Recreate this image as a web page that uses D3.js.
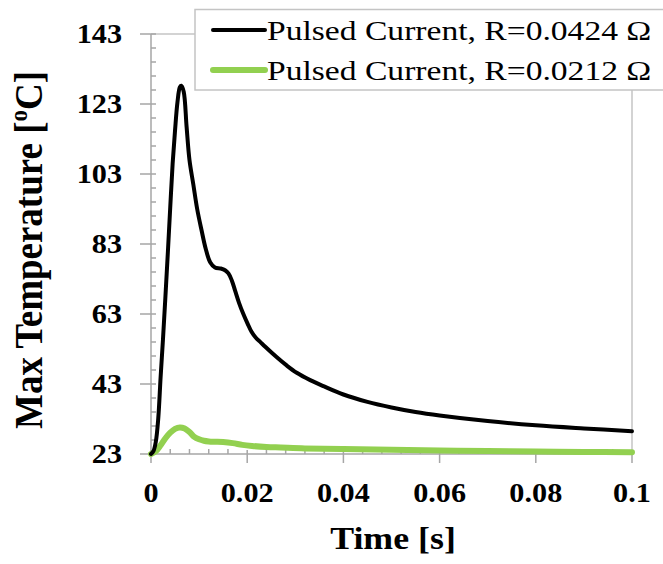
<!DOCTYPE html>
<html>
<head>
<meta charset="utf-8">
<script src="https://cdn.jsdelivr.net/npm/d3@7"></script>
<style>
  html, body { margin: 0; padding: 0; background: #fff; }
  svg { display: block; }
  text { font-family: "Liberation Serif", "Times New Roman", Times, serif; }
</style>
</head>
<body>
<svg id="chart" width="663" height="564"></svg>
<script>
// Time axis (s) and temperature axis (°C) ticks
const xTicks = [0, 0.02, 0.04, 0.06, 0.08, 0.1];
const xTickLabels = ["0", "0.02", "0.04", "0.06", "0.08", "0.1"];
const yTicks = [23, 43, 63, 83, 103, 123, 143];
const yTickLabels = ["23", "43", "63", "83", "103", "123", "143"];

// Series names
const seriesNames = ["Pulsed Current, R=0.0424 Ω", "Pulsed Current, R=0.0212 Ω"];
const seriesColors = ["#000000", "#92d050"];

// Max temperature vs time, R = 0.0424 Ω
const timeHigh = [0, 0.0005, 0.001, 0.0015, 0.002, 0.0025, 0.003, 0.0035, 0.004, 0.0045, 0.005, 0.0055, 0.006, 0.0063, 0.0068, 0.0074, 0.008, 0.0088, 0.0096, 0.0105, 0.0114, 0.0123, 0.0133, 0.0145, 0.0154, 0.0161, 0.0168, 0.0175, 0.0183, 0.0192, 0.0201, 0.0209, 0.0218, 0.0228, 0.0237, 0.0261, 0.0282, 0.0303, 0.0331, 0.036, 0.04, 0.045, 0.05, 0.055, 0.06, 0.07, 0.08, 0.09, 0.1];
const tempHigh = [23, 23.8, 26.5, 33, 45, 56, 68, 80.5, 93.5, 106, 115.5, 123.5, 127.8, 128.2, 126.5, 116.5, 107, 100, 93, 87, 81.5, 77.8, 76.3, 76, 75.5, 74.6, 72.6, 69.6, 66.2, 63.0, 60.2, 57.9, 56.2, 54.9, 53.7, 50.7, 48.3, 46.2, 44.1, 42.3, 40.0, 37.9, 36.3, 35.0, 34.0, 32.4, 31.2, 30.3, 29.5];

// Max temperature vs time, R = 0.0212 Ω
const timeLow = [0, 0.001, 0.002, 0.003, 0.004, 0.005, 0.006, 0.007, 0.008, 0.009, 0.010, 0.011, 0.012, 0.013, 0.015, 0.017, 0.019, 0.021, 0.024, 0.027, 0.032, 0.04, 0.05, 0.06, 0.07, 0.08, 0.09, 0.1];
const tempLow = [23, 23.8, 25.5, 27.5, 29.1, 30.2, 30.6, 30.3, 29.3, 27.9, 27.2, 26.8, 26.6, 26.5, 26.4, 26.1, 25.6, 25.3, 25.0, 24.85, 24.6, 24.4, 24.2, 24.0, 23.85, 23.7, 23.6, 23.5];

const svg = d3.select("#chart");
const SX = 1.12; // horizontal stretch of lettering

const x = d3.scaleLinear().domain([0, 0.1]).range([151, 632]);
const y = d3.scaleLinear().domain([23, 143]).range([454, 34]);

const axisColor = "#a6a6a6";
const borderColor = "#c4c4c4";

// Plot area border (top and right)
svg.append("line").attr("x1", x(0)).attr("x2", x(0.1)).attr("y1", y(143)).attr("y2", y(143))
  .attr("stroke", borderColor).attr("stroke-width", 1.5);
svg.append("line").attr("x1", x(0.1)).attr("x2", x(0.1)).attr("y1", y(143)).attr("y2", y(23))
  .attr("stroke", borderColor).attr("stroke-width", 1.5);

// Minor ticks (inside)
const xMinor = d3.range(0.004, 0.1, 0.004).filter(v => Math.abs(v / 0.02 - Math.round(v / 0.02)) > 1e-6);
const yMinor = d3.range(27, 143, 4).filter(v => (v - 23) % 20 !== 0);
svg.append("g").selectAll("line").data(xMinor).join("line")
  .attr("x1", d => x(d)).attr("x2", d => x(d)).attr("y1", y(23)).attr("y2", y(23) - 5)
  .attr("stroke", axisColor).attr("stroke-width", 1.5);
svg.append("g").selectAll("line").data(yMinor).join("line")
  .attr("x1", x(0)).attr("x2", x(0) + 5).attr("y1", d => y(d)).attr("y2", d => y(d))
  .attr("stroke", axisColor).attr("stroke-width", 1.5);

// Major ticks (cross)
svg.append("g").selectAll("line").data(xTicks).join("line")
  .attr("x1", d => x(d)).attr("x2", d => x(d)).attr("y1", y(23) - 4).attr("y2", y(23) + 9)
  .attr("stroke", axisColor).attr("stroke-width", 1.5);
svg.append("g").selectAll("line").data(yTicks).join("line")
  .attr("x1", x(0) - 11).attr("x2", x(0) + 5).attr("y1", d => y(d)).attr("y2", d => y(d))
  .attr("stroke", axisColor).attr("stroke-width", 1.5);

// Axis lines
svg.append("line").attr("x1", x(0)).attr("x2", x(0.1)).attr("y1", y(23)).attr("y2", y(23))
  .attr("stroke", axisColor).attr("stroke-width", 1.5);
svg.append("line").attr("x1", x(0)).attr("x2", x(0)).attr("y1", y(23)).attr("y2", y(143))
  .attr("stroke", axisColor).attr("stroke-width", 1.5);

// Tick labels
svg.append("g").selectAll("text").data(xTicks).join("text")
  .attr("transform", d => `translate(${x(d)},502) scale(${SX},1)`)
  .attr("text-anchor", "middle")
  .attr("font-weight", "bold").attr("font-size", 27)
  .text((d, i) => xTickLabels[i]);
svg.append("g").selectAll("text").data(yTicks).join("text")
  .attr("transform", d => `translate(122,${y(d)}) scale(${SX},1)`)
  .attr("text-anchor", "end").attr("dy", "0.34em")
  .attr("font-weight", "bold").attr("font-size", 27)
  .text((d, i) => yTickLabels[i]);

// Axis titles
svg.append("text")
  .attr("transform", `translate(393,549) scale(${SX},1)`)
  .attr("text-anchor", "middle")
  .attr("font-weight", "bold").attr("font-size", 32)
  .text("Time [s]");
const yTitle = svg.append("text")
  .attr("transform", "translate(41.5,250) rotate(-90) scale(1,1.1)")
  .attr("text-anchor", "middle")
  .attr("font-weight", "bold").attr("font-size", 37);
yTitle.append("tspan").text("Max Temperature [");
yTitle.append("tspan").attr("font-size", 23).attr("dy", -13).text("o");
yTitle.append("tspan").attr("dy", 13).text("C]");

// Curves
const line = d3.line().x(d => x(d[0])).y(d => y(d[1])).curve(d3.curveCatmullRom.alpha(0.5));
const seriesData = [
  d3.zip(timeHigh, tempHigh),
  d3.zip(timeLow, tempLow)
];
const widths = [4, 6];
// draw green below black
[1, 0].forEach(i => {
  svg.append("path").datum(seriesData[i])
    .attr("d", line)
    .attr("fill", "none")
    .attr("stroke", seriesColors[i])
    .attr("stroke-width", widths[i])
    .attr("stroke-linejoin", "round")
    .attr("stroke-linecap", "round");
});

// Legend
const lg = svg.append("g");
lg.append("rect").attr("x", 195).attr("y", 9.5).attr("width", 520).attr("height", 80.5)
  .attr("fill", "#fff").attr("stroke", borderColor).attr("stroke-width", 1.5);
const rowsY = [30, 70];
const baseY = [40, 79.5];
seriesNames.forEach((name, i) => {
  lg.append("line").attr("x1", 213).attr("x2", 265).attr("y1", rowsY[i]).attr("y2", rowsY[i])
    .attr("stroke", seriesColors[i]).attr("stroke-width", widths[i]).attr("stroke-linecap", "round");
  lg.append("text")
    .attr("transform", `translate(267,${baseY[i]}) scale(1.2,1)`)
    .attr("font-size", 28)
    .text(name);
});
</script>
</body>
</html>
